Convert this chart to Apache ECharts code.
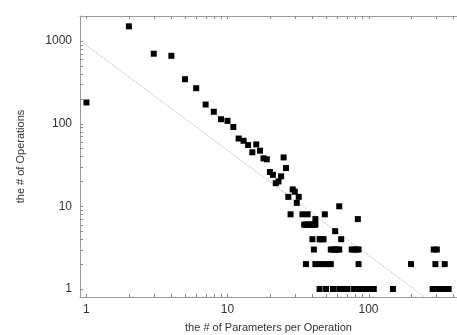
<!DOCTYPE html>
<html>
<head>
<meta charset="utf-8">
<script src="https://cdn.jsdelivr.net/npm/echarts@6/dist/echarts.min.js"></script>
<style>
html,body{margin:0;padding:0;background:#fff;}
#chart{width:457px;height:335px;}
</style>
</head>
<body>
<div id="chart"></div>
<script>
// Parameters per operation (x) and number of operations (y)
const paramCounts = [1,2,3,4,5,6,7,8,9,10,11,12,13,14,15,16,17,18,19,20,21,22,23,24,25,26,27,28,29,30,31,32,
  34,37,49,62,42,84,
  35,36,37,38,39,40,41,42,
  58,
  40,45,46,47,48,64,
  41,54,56,58,60,62,76,79,82,85,290,305,
  36,42,45,48,51,54,85,200,298,347,
  45,50,56,62,65,68,71,79,83,87,90,93,102,106,109,149,285,300,315,330,350,370];
const opCounts = [180,1500,700,660,344,268,170,139,113,108,91,66,62,55,45,56,47,38,37,26,24,19,20,23,39,29,13,8,16,15,11,13,
  8,8,8,10,7,7,
  6,6,6,6,6,6,6,6,
  5,
  4,4,4,4,4,4,
  3,3,3,3,3,3,3,3,3,3,3,3,
  2,2,2,2,2,2,2,2,2,2,
  1,1,1,1,1,1,1,1,1,1,1,1,1,1,1,1,1,1,1,1,1,1];
// Reference power-law line endpoints
const fitX = [0.9, 250];
const fitY = [1010, 0.8];
// Tick values
const xMajorTicks = [1, 10, 100];
const xAllTicks = [1,2,3,4,5,6,7,8,9,10,20,30,40,50,60,70,80,90,100,200,300,400];
const yMajorTicks = [1, 10, 100, 1000];
const yAllTicks = [1,2,3,4,5,6,7,8,9,10,20,30,40,50,60,70,80,90,100,200,300,400,500,600,700,800,900,1000];

const points = paramCounts.map((x, i) => [x, opCounts[i]]);
const fitLine = fitX.map((x, i) => [x, fitY[i]]);

const FONT = 'Liberation Sans, Arial, sans-serif';
const AXIS_COLOR = '#9a9a9a';
const TICK_COLOR = '#8a8a8a';
const TICK_LEN = 3;
const chart = echarts.init(document.getElementById('chart'), null, {renderer: 'canvas'});
const fmt = v => String(Math.round(v));

function tickLine(x1, y1, x2, y2) {
  return {type: 'line', shape: {x1, y1, x2, y2}, style: {stroke: TICK_COLOR, lineWidth: 1}};
}

chart.setOption({
  animation: false,
  backgroundColor: '#fff',
  grid: {left: 80, top: 16, right: 0, bottom: 38, containLabel: false, outerBoundsMode: 'none'},
  xAxis: [{
    type: 'log', logBase: 10, min: 0.9, max: 424, position: 'bottom',
    name: 'the # of Parameters per Operation', nameLocation: 'middle', nameGap: 25,
    nameTextStyle: {fontFamily: FONT, fontSize: 11, color: '#333'},
    axisLine: {show: true, lineStyle: {color: AXIS_COLOR, width: 1}},
    axisTick: {show: false},
    axisLabel: {customValues: xMajorTicks, formatter: fmt, fontFamily: FONT, fontSize: 12, color: '#333', margin: 7},
    splitLine: {show: false}, minorTick: {show: false}
  }, {
    type: 'log', logBase: 10, min: 0.9, max: 424, position: 'top',
    axisLine: {show: true, lineStyle: {color: AXIS_COLOR, width: 1}},
    axisTick: {show: false},
    axisLabel: {show: false},
    splitLine: {show: false}
  }],
  yAxis: [{
    type: 'log', logBase: 10, min: 0.8, max: 2000, position: 'left',
    name: 'the # of Operations', nameLocation: 'middle', nameGap: 54,
    nameTextStyle: {fontFamily: FONT, fontSize: 11, color: '#333'},
    axisLine: {show: true, lineStyle: {color: AXIS_COLOR, width: 1}},
    axisTick: {show: false},
    axisLabel: {customValues: yMajorTicks, formatter: fmt, fontFamily: FONT, fontSize: 12, color: '#333', margin: 8},
    splitLine: {show: false}
  }],
  series: [{
    // x-axis tick marks (bottom and mirrored top), placed through the axis scale
    type: 'custom', silent: true, z: 3, clip: false,
    data: xAllTicks.map(v => [v, 1]),
    renderItem: (params, api) => {
      const p = api.coord([api.value(0), 1]);
      const cs = params.coordSys;
      const x = Math.round(p[0]) + 0.5;
      const bottom = cs.y + cs.height, top = cs.y;
      return {type: 'group', children: [
        tickLine(x, bottom, x, bottom - TICK_LEN),
        tickLine(x, top, x, top + TICK_LEN)
      ]};
    }
  }, {
    // y-axis tick marks
    type: 'custom', silent: true, z: 3, clip: false,
    data: yAllTicks.map(v => [1, v]),
    renderItem: (params, api) => {
      const p = api.coord([1, api.value(1)]);
      const cs = params.coordSys;
      const y = Math.round(p[1]) + 0.5;
      return tickLine(cs.x, y, cs.x + TICK_LEN, y);
    }
  }, {
    type: 'line', data: fitLine, symbol: 'none', silent: true, z: 1,
    lineStyle: {color: '#b5b5b5', width: 1, type: 'dotted'}
  }, {
    type: 'scatter', data: points, symbol: 'rect', symbolSize: 6, z: 2,
    itemStyle: {color: '#000', opacity: 1}
  }]
});
</script>
</body>
</html>
